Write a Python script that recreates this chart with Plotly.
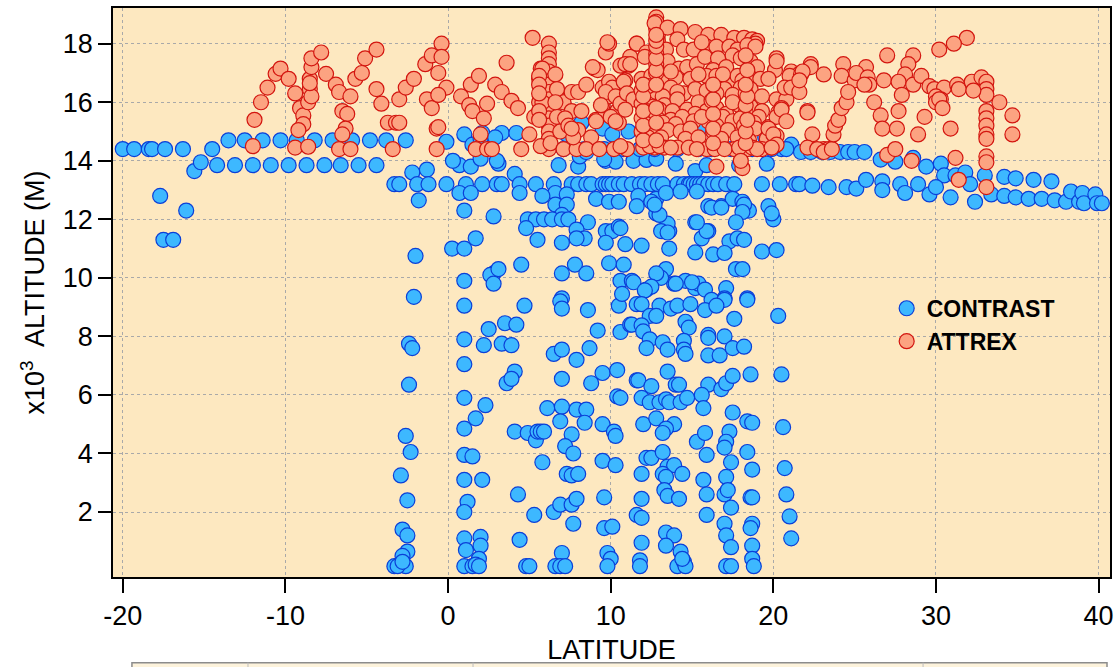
import plotly.graph_objects as go

# ---------------- DATA (latitude in deg, altitude in 10^3 m) ----------------
contrast_west = [
    (-20.0, 14.4), (-19.3, 14.4), (-18.4, 14.4), (-18.2, 14.4), (-17.4, 14.4), (-16.3, 14.4), (-14.5, 14.4),
    (-15.6, 13.65), (-15.2, 13.95),
    (-14.2, 13.85), (-13.1, 13.85), (-12.0, 13.85), (-10.9, 13.85), (-9.8, 13.85), (-8.7, 13.85),
    (-7.6, 13.85), (-6.6, 13.85), (-5.5, 13.85), (-4.4, 13.85),
    (-13.5, 14.7), (-12.5, 14.7), (-11.4, 14.7), (-10.3, 14.7), (-9.3, 14.7), (-8.2, 14.7),
    (-7.1, 14.7), (-5.9, 14.7), (-4.8, 14.7), (-3.8, 14.7),
    (-17.7, 12.8), (-17.5, 11.3), (-16.9, 11.3), (-16.1, 12.3), (-3.3, 13.2),
    (-2.6, 14.7), (-0.1, 14.65),
]

contrast_band = [
    (-2.2, 13.6), (-1.3, 13.7), (-1.8, 12.65), (0.7, 13.85), (1.4, 13.8), (2.0, 14.07), (3.1, 13.9),
    (4.1, 13.55), (6.8, 13.85), (8.0, 13.8), (9.7, 14.0), (10.3, 13.97), (11.4, 14.0), (12.2, 14.03),
    (12.8, 14.07), (14.0, 13.9), (15.2, 13.65), (15.9, 13.85), (17.9, 13.85), (19.6, 13.9),
    (1.0, 14.9), (2.1, 14.95), (3.3, 14.95), (4.2, 14.95), (1.5, 14.55), (2.0, 14.75), (2.9, 14.8),
    (8.2, 15.3), (7.3, 14.9), (9.5, 15.1), (10.1, 14.9), (11.1, 15.0), (14.8, 14.9), (15.4, 15.05),
    (19.5, 14.8), (21.1, 14.55), (20.5, 14.4),
    (7.1, 14.4), (8.4, 14.4), (9.6, 14.4), (10.8, 14.4), (11.8, 14.4), (12.7, 14.4), (14.1, 14.4),
    (15.4, 14.4), (16.2, 14.4), (17.4, 14.4), (18.7, 14.4), (19.9, 14.4), (20.8, 14.4),
    (0.3, 14.0), (3.0, 14.0), (8.1, 14.15), (8.5, 14.3), (9.6, 14.05),
    (-3.0, 13.2), (-1.9, 13.2), (-1.2, 13.2), (-0.1, 13.2), (1.1, 13.2), (2.1, 13.2), (3.0, 13.2),
    (3.3, 13.2), (4.4, 13.2), (5.4, 13.2), (6.5, 13.2), (7.6, 13.2), (8.0, 13.2), (8.5, 13.2),
    (8.8, 13.2), (9.5, 13.2), (9.7, 13.2), (9.9, 13.2), (10.1, 13.2), (10.5, 13.2), (10.8, 13.2),
    (11.3, 13.2), (11.8, 13.2), (12.1, 13.2), (12.5, 13.2), (12.9, 13.2), (13.2, 13.2), (14.1, 13.2),
    (14.5, 13.2), (14.8, 13.2), (14.9, 13.2), (15.1, 13.2), (15.3, 13.2), (15.5, 13.2), (15.7, 13.2),
    (16.0, 13.2), (16.3, 13.2), (16.6, 13.2), (17.1, 13.2), (17.6, 13.2), (19.3, 13.2), (20.4, 13.2),
    (21.4, 13.2),
]

contrast_east = [
    (21.7, 14.3), (22.3, 14.3), (23.0, 14.3), (23.5, 14.3), (24.1, 14.3), (24.6, 14.3), (25.0, 14.3),
    (25.6, 14.3), (26.6, 14.04), (27.5, 13.97), (28.6, 14.1), (29.4, 13.8), (30.3, 13.9), (30.5, 13.5),
    (31.2, 13.5), (31.8, 13.6), (32.1, 13.2), (33.0, 13.5), (34.2, 13.45), (34.9, 13.4), (36.0, 13.35),
    (37.1, 13.3),
    (21.6, 13.2), (22.4, 13.15), (23.4, 13.1), (24.5, 13.1), (25.1, 13.05), (25.7, 13.35), (26.7, 13.3),
    (26.7, 13.0), (27.8, 13.2), (28.1, 12.9), (28.9, 13.2), (29.6, 12.85), (30.0, 13.1), (30.9, 12.75),
    (32.4, 12.6), (33.4, 12.85), (34.2, 12.8), (34.9, 12.75), (35.7, 12.7), (36.5, 12.7), (37.3, 12.65),
    (38.0, 12.6), (38.3, 12.95), (38.8, 12.6), (39.0, 12.9), (39.1, 12.55), (39.8, 12.85), (39.9, 12.55),
    (40.2, 12.55),
]

contrast_upper = [
    (0.7, 12.9), (1.4, 12.9), (4.4, 12.9), (6.6, 12.9), (7.3, 12.85), (9.1, 12.7), (9.9, 12.6),
    (10.5, 12.6), (11.7, 12.8), (12.8, 12.7), (13.4, 12.9), (14.3, 12.95), (15.3, 12.95), (16.0, 12.45),
    (16.8, 12.45), (17.5, 12.7), (18.1, 12.6), (18.3, 12.3), (18.5, 12.3), (19.7, 12.45), (20.0, 12.0),
    (1.0, 12.3), (2.8, 12.1), (5.8, 12.8), (6.6, 12.5), (7.3, 12.5), (7.0, 12.15),
    (4.9, 12.0), (5.4, 12.0), (5.9, 12.0), (6.4, 12.0), (7.0, 12.0), (7.4, 12.0), (4.8, 11.7),
    (8.6, 11.9), (7.9, 11.65), (8.4, 11.35), (7.9, 11.35), (9.7, 11.6), (10.1, 11.6), (10.5, 11.75),
    (11.6, 12.45), (12.5, 12.6), (12.8, 12.2), (13.2, 11.6), (13.6, 11.6), (13.5, 11.85), (15.2, 11.9),
    (15.6, 11.35), (16.0, 11.6), (17.3, 11.25), (17.8, 11.35), (18.2, 11.3), (19.3, 10.9), (20.2, 10.95),
    (0.25, 11.0), (1.0, 11.0), (1.7, 11.35), (-2.0, 10.75), (2.8, 10.15), (2.6, 10.1), (3.1, 10.3),
    (4.5, 10.45), (7.0, 10.15), (7.8, 10.45), (8.5, 10.15), (9.9, 10.5), (10.8, 10.45), (1.0, 9.9),
    (2.8, 9.8), (10.6, 9.9), (11.3, 9.9), (12.2, 9.6), (13.2, 10.1), (13.4, 10.3), (13.9, 9.8),
    (14.6, 9.9), (15.2, 9.65), (15.4, 9.8), (17.1, 9.65), (17.0, 9.3), (17.7, 10.3), (18.1, 10.3),
    (18.4, 9.3), (-2.1, 9.35), (7.0, 9.3),
    (5.5, 11.3), (7.0, 11.2), (9.7, 11.2), (10.6, 11.7), (10.9, 11.15), (11.9, 11.1), (13.6, 11.0),
    (15.2, 10.87), (16.3, 10.8), (17.0, 10.85), (13.1, 10.0), (12.8, 10.15), (11.4, 9.85), (12.5, 9.7),
    (12.1, 9.57), (14.0, 9.8), (15.0, 9.85), (15.8, 9.6),
    (16.2, 12.4), (16.8, 12.4), (18.2, 12.5), (18.1, 12.25), (19.9, 12.2), (13.0, 12.15), (12.7, 12.5),
    (15.9, 11.6), (17.7, 11.9), (13.1, 11.6), (13.5, 11.55), (15.3, 11.9),
]

contrast_middle = [
    (1.0, 9.05), (4.7, 9.05), (6.9, 9.2), (7.0, 8.95), (8.6, 8.9), (10.5, 9.05), (10.7, 9.45),
    (11.6, 9.1), (2.5, 8.25), (3.5, 8.45), (4.2, 8.4), (9.2, 8.2), (10.6, 8.15), (11.2, 8.4),
    (1.0, 7.9), (2.2, 7.7), (3.3, 7.75), (3.9, 7.7), (6.5, 7.4), (7.0, 7.55), (7.9, 7.2), (8.7, 7.6),
    (1.0, 7.05), (4.1, 6.8), (3.6, 6.4), (3.9, 6.55), (7.0, 6.55), (8.8, 6.4), (9.5, 6.75),
    (10.4, 6.85), (11.6, 6.5),
    (16.2, 9.25), (17.0, 9.25), (15.8, 8.9), (16.5, 9.05), (18.4, 9.25), (11.9, 9.1), (13.0, 9.05),
    (13.7, 8.95), (14.1, 9.05), (14.9, 9.1), (12.4, 8.7), (12.8, 8.7), (17.6, 8.6), (20.3, 8.7),
    (11.3, 8.4), (11.9, 8.38), (12.0, 8.17), (14.6, 8.5), (14.8, 8.3), (12.4, 7.9), (12.2, 7.6),
    (13.2, 7.8), (13.5, 7.55), (14.5, 7.85), (14.5, 7.55), (14.6, 7.4), (16.0, 8.05), (16.0, 7.95),
    (17.0, 8.0), (16.0, 7.35), (16.7, 7.35), (17.5, 7.6), (18.2, 7.65), (13.5, 6.8), (11.7, 6.5),
    (12.5, 6.3), (14.0, 6.35), (14.2, 6.35), (16.0, 6.35), (16.8, 6.2), (17.1, 6.4), (17.5, 6.65),
    (18.6, 6.7), (20.5, 6.7),
    (-2.4, 7.75), (-2.2, 7.6), (-2.4, 6.35),
]

contrast_lower = [
    (-2.6, 4.6), (-2.3, 4.05), (-2.9, 3.25), (-2.5, 2.4), (-2.8, 1.4), (-2.5, 1.2), (-2.5, 0.65),
    (-2.8, 0.5), (-3.3, 0.15), (-2.6, 0.15), (-3.1, 0.15), (-2.8, 0.3),
    (1.0, 5.9), (2.3, 5.65), (1.7, 5.2), (1.0, 4.85), (1.0, 3.95), (1.5, 3.9), (1.0, 3.1), (2.1, 3.1),
    (1.2, 2.35), (1.0, 2.0), (1.0, 1.1), (2.0, 1.15), (1.1, 0.7), (2.0, 0.85), (1.9, 0.4), (1.0, 0.15),
    (1.5, 0.15), (1.7, 0.2), (1.9, 0.15),
    (4.1, 4.75), (4.9, 4.7), (5.4, 4.45), (5.5, 4.75), (5.7, 4.75), (5.9, 4.75), (5.8, 3.7),
    (4.3, 2.6), (4.4, 1.05), (4.8, 0.15), (5.0, 0.15),
    (6.1, 5.55), (7.0, 5.6), (7.9, 5.5), (8.5, 5.5), (6.9, 5.1), (8.4, 5.05), (7.6, 4.65), (7.2, 4.25),
    (7.7, 4.0), (7.3, 3.3), (7.6, 3.25), (8.0, 3.3), (5.3, 1.9), (6.5, 2.0), (6.9, 2.25), (7.6, 2.25),
    (7.9, 2.45), (7.7, 1.6), (7.0, 0.6), (6.6, 0.15), (6.9, 0.15), (7.2, 0.15),
    (9.5, 5.0), (10.2, 4.75), (10.3, 4.6), (9.5, 3.75), (10.3, 3.6), (9.6, 2.5), (9.6, 1.45),
    (10.1, 1.5), (9.8, 0.6), (10.0, 0.4), (9.8, 0.15), (10.4, 5.95),
    (10.6, 5.9), (11.9, 5.9), (12.4, 5.75), (13.0, 5.75), (13.4, 5.85), (13.6, 5.75), (14.3, 5.75),
    (14.7, 5.9), (15.6, 6.0), (15.7, 5.55), (17.5, 5.4), (18.4, 5.1), (18.7, 5.05), (20.6, 4.9),
    (12.0, 5.0), (12.8, 5.2), (13.9, 5.0), (13.4, 4.85), (13.2, 4.7), (15.3, 4.4), (15.8, 4.7),
    (17.3, 4.75), (17.1, 4.4), (17.0, 4.2), (18.4, 4.05),
    (12.2, 3.85), (12.5, 3.85), (13.2, 4.05), (13.5, 3.55), (13.9, 3.6), (15.9, 3.95), (17.4, 3.7),
    (18.7, 3.45), (20.7, 3.5),
    (11.9, 3.3), (13.2, 3.3), (13.4, 3.2), (14.4, 3.3), (15.7, 3.1), (17.1, 3.2), (13.3, 2.75),
    (13.5, 2.55), (14.2, 2.45), (15.9, 2.6), (17.0, 2.6), (17.2, 2.75), (18.6, 2.5), (18.7, 2.5),
    (20.8, 2.6),
    (11.9, 2.45), (11.6, 1.9), (11.9, 1.8), (15.9, 1.9), (17.4, 2.15), (17.0, 1.6), (18.7, 1.6),
    (18.6, 1.45), (21.0, 1.85),
    (13.4, 1.3), (13.9, 1.2), (13.4, 0.85), (11.9, 0.95), (14.3, 0.65), (17.1, 1.2), (17.4, 0.8),
    (18.7, 0.85), (21.1, 1.1), (11.8, 0.35), (14.1, 0.15), (14.5, 0.3), (14.6, 0.15), (17.1, 0.15),
    (17.4, 0.15), (18.7, 0.4), (18.8, 0.15), (14.4, 0.4), (11.8, 0.15),
]

attrex_west = [
    (-11.9, 15.4), (-11.5, 16.0), (-11.1, 16.5), (-10.6, 16.97), (-10.3, 17.15), (-9.8, 16.8),
    (-9.4, 16.3), (-9.1, 15.8), (-8.9, 15.55), (-8.9, 15.25), (-9.2, 15.05), (-9.4, 14.45),
    (-8.6, 14.48), (-12.0, 14.5),
    (-8.6, 16.0), (-8.5, 16.45), (-8.5, 16.8), (-8.4, 17.2), (-8.4, 17.5), (-7.8, 17.7),
    (-8.4, 16.2), (-8.5, 16.65),
    (-7.5, 16.97), (-6.9, 16.6), (-6.7, 16.35), (-6.5, 15.7), (-6.2, 15.6), (-6.3, 15.1),
    (-6.5, 14.9), (-6.7, 14.4), (-6.0, 14.4), (-6.0, 16.2), (-5.7, 16.8), (-5.3, 17.0), (-5.1, 17.5),
    (-4.4, 17.8), (-4.4, 16.45), (-4.1, 15.95), (-3.7, 15.3), (-3.2, 15.3), (-3.4, 14.4), (-3.0, 16.1),
    (-2.6, 16.5), (-2.1, 16.8), (-3.0, 15.3), (-1.4, 17.3), (-1.0, 17.6), (-0.4, 18.0), (-0.4, 17.55),
    (-0.6, 17.0), (-0.1, 16.5), (-1.3, 16.1), (-1.0, 15.8), (-0.6, 16.25), (-0.7, 15.1), (-0.6, 15.15),
    (-0.7, 14.4),
    (0.8, 16.2), (1.3, 15.9), (1.4, 16.6), (1.9, 16.9), (1.5, 15.7), (2.2, 15.45), (2.4, 15.95),
    (2.0, 14.9), (1.7, 14.4), (2.4, 14.4), (2.7, 14.4), (2.9, 16.6), (3.3, 16.35), (3.6, 17.35),
    (3.9, 16.05), (4.3, 15.8), (5.2, 18.2), (4.5, 14.4), (5.0, 14.9), (5.3, 15.5), (5.6, 16.0),
    (5.7, 16.45), (5.6, 16.8), (5.7, 17.15),
]

attrex_col6 = [
    (6.2, 18.0), (6.2, 17.7), (6.2, 17.5), (6.2, 17.3), (6.2, 17.05), (6.2, 16.8), (6.2, 16.6),
    (6.2, 16.35), (6.2, 16.1), (6.2, 15.9), (6.2, 15.7), (6.2, 15.45), (6.2, 15.2), (6.2, 15.0),
    (6.2, 14.75), (6.2, 14.4),
    (5.8, 17.15), (6.6, 16.95), (6.8, 16.1), (5.8, 16.0), (5.6, 16.9), (5.6, 16.6), (5.6, 16.3),
    (5.6, 15.7), (5.6, 15.4), (6.7, 15.5), (6.9, 15.0), (5.7, 14.5), (6.3, 14.6),
]

attrex_mid = [
    (7.1, 16.0), (7.6, 16.35), (8.0, 16.35), (8.5, 16.6), (7.6, 15.7), (7.2, 15.45), (8.0, 15.05),
    (8.8, 14.8), (7.1, 14.4), (7.9, 14.4), (8.5, 14.4), (9.3, 14.4), (10.2, 14.4), (9.1, 15.4),
    (9.7, 15.6), (9.5, 15.9), (9.9, 16.2), (10.5, 16.2), (9.5, 16.5), (9.9, 16.7), (10.4, 15.7),
    (10.5, 15.3), (10.7, 16.25), (10.9, 16.75), (11.1, 17.25), (10.6, 17.25), (9.7, 17.7), (9.9, 18.0),
    (9.0, 17.15), (9.2, 17.1), (11.6, 18.0),
    (6.7, 16.45), (6.6, 16.0), (8.2, 15.7), (7.4, 15.2), (7.7, 14.8), (7.6, 15.1), (8.9, 17.2),
    (9.8, 18.05), (10.1, 16.5), (9.7, 16.35), (10.3, 16.2), (10.6, 15.95), (9.4, 15.9), (10.0, 15.5),
    (10.3, 15.35), (9.1, 15.35), (11.2, 17.55), (10.9, 17.3), (10.8, 16.7), (11.0, 16.3), (11.4, 16.1),
    (10.9, 15.75), (11.0, 14.4), (10.6, 14.5),
]

attrex_core = [
    (12.8, 18.9), (12.8, 18.75), (12.8, 18.5), (12.9, 18.3), (12.7, 18.7), (13.5, 18.55), (14.3, 18.5),
    (15.2, 18.4), (16.0, 18.3), (16.8, 18.3), (17.6, 18.2), (18.2, 18.2), (18.7, 18.15), (19.0, 18.1),
    (18.9, 18.0),
    (11.6, 18.0), (12.9, 18.1), (13.4, 17.8), (14.1, 18.15), (14.5, 17.8), (15.1, 17.8), (15.9, 17.9),
    (16.5, 17.9), (17.3, 17.9), (17.8, 17.8), (18.4, 17.95), (18.9, 17.9), (12.2, 17.7), (15.6, 18.05),
    (12.1, 17.55), (12.8, 17.65), (13.5, 17.4), (14.2, 17.15), (14.7, 17.2), (15.3, 17.3), (15.8, 17.55),
    (16.6, 17.5), (17.5, 17.6), (18.0, 17.5), (18.6, 17.4), (19.0, 17.2), (20.2, 17.5), (20.1, 17.1),
    (12.8, 17.3), (16.3, 17.1), (17.1, 17.2),
    (11.2, 17.3), (11.9, 16.8), (12.5, 16.9), (13.3, 16.8), (14.0, 16.85), (14.9, 16.8), (15.9, 16.9),
    (16.5, 16.9), (17.3, 16.7), (17.8, 16.9), (18.5, 16.9), (19.2, 16.8), (19.7, 16.8), (12.8, 17.0),
    (13.7, 17.05), (15.4, 16.95), (16.9, 16.95), (18.1, 16.75),
    (11.9, 16.4), (12.8, 16.35), (13.7, 16.5), (14.5, 16.3), (15.2, 16.45), (15.9, 16.4), (17.0, 16.45),
    (18.0, 16.5), (18.6, 16.45), (19.3, 16.2), (20.2, 16.1), (12.3, 16.55), (13.2, 16.2), (14.1, 16.35),
    (16.5, 16.3), (17.5, 16.25), (18.3, 16.3),
    (11.9, 15.95), (12.6, 15.85), (13.3, 15.9), (14.1, 16.1), (14.7, 15.75), (15.4, 16.0), (15.9, 15.7),
    (16.5, 15.8), (17.1, 15.6), (17.9, 15.9), (18.6, 15.85), (19.3, 15.7), (12.2, 15.7), (13.0, 15.75),
    (13.8, 15.7), (15.2, 15.6), (16.2, 16.05), (17.5, 16.0), (18.3, 15.65),
    (11.9, 15.45), (12.8, 15.5), (13.7, 15.4), (14.4, 15.5), (15.1, 15.35), (16.0, 15.35), (16.9, 15.5),
    (17.5, 15.35), (18.3, 15.25), (19.1, 15.5), (19.7, 15.15), (12.2, 15.25), (13.2, 15.3), (14.0, 15.25),
    (15.6, 15.5), (16.5, 15.2), (18.0, 15.45), (18.8, 15.3),
    (11.9, 15.0), (12.8, 15.05), (13.5, 15.05), (14.3, 15.0), (14.9, 15.1), (16.3, 15.0), (17.2, 15.05),
    (18.2, 15.2), (18.9, 15.1), (19.6, 14.75), (20.2, 14.85), (12.3, 14.8), (13.1, 14.8), (14.6, 14.75),
    (15.4, 14.8), (16.8, 14.75), (17.8, 14.8), (18.5, 14.7),
    (12.0, 14.45), (12.7, 14.45), (13.3, 14.45), (14.1, 14.45), (14.8, 14.45), (15.9, 14.4), (16.4, 14.4),
    (17.6, 14.4), (18.4, 14.4), (19.3, 14.4), (19.9, 14.45), (12.4, 14.5), (13.0, 14.5), (13.7, 14.45),
    (15.3, 14.4), (17.0, 14.4), (17.9, 14.45), (18.7, 14.45), (19.0, 14.4),
    (16.5, 13.8), (18.1, 13.75), (18.0, 14.0),
    (12.0, 14.7), (12.0, 15.2), (12.0, 15.7), (12.0, 16.2), (12.0, 16.6),
    (12.8, 14.7), (12.8, 15.3), (12.8, 15.8), (12.8, 16.6), (12.8, 17.1), (12.8, 17.5), (12.8, 17.9),
    (12.8, 18.1), (12.8, 18.3),
    (18.3, 14.6), (18.3, 15.0), (18.4, 15.4), (18.3, 15.9), (18.4, 16.2), (18.3, 16.6), (18.4, 17.1),
    (18.3, 17.6),
    (16.3, 14.6), (16.3, 15.1), (16.3, 15.6), (16.3, 16.1), (16.3, 16.6),
]

attrex_east = [
    (20.2, 17.4), (21.1, 17.05), (21.6, 16.97), (20.8, 16.1), (20.3, 15.65), (20.2, 15.5), (19.7, 15.1),
    (20.0, 14.9), (20.2, 14.55), (20.5, 15.8),
    (21.0, 16.9), (21.7, 16.95), (22.3, 17.3), (23.1, 16.95), (20.7, 16.5), (21.1, 16.5), (20.5, 15.75),
    (20.8, 15.35), (22.1, 15.7), (22.4, 14.9), (23.1, 14.4), (23.4, 14.4), (22.1, 14.45), (19.9, 14.45),
    (31.9, 18.2), (31.1, 18.0), (30.2, 17.8), (27.0, 17.6), (28.6, 17.6), (28.3, 17.3), (28.1, 16.95),
    (24.3, 17.3), (25.7, 17.2), (22.3, 17.2), (21.8, 17.05), (24.2, 16.9), (25.0, 16.75), (25.1, 17.0),
    (25.8, 16.85), (25.9, 16.6), (25.6, 16.6), (26.8, 16.75), (27.7, 16.7), (28.6, 16.6), (29.1, 16.9),
    (29.6, 16.55), (29.9, 16.45), (30.5, 16.5), (30.0, 16.2), (30.3, 16.1), (30.0, 16.0), (31.3, 16.6),
    (31.4, 16.45), (32.2, 16.7), (32.8, 16.85), (33.1, 16.7), (33.1, 16.45), (33.1, 16.25), (32.3, 16.4),
    (33.9, 16.0), (34.7, 15.55), (34.7, 14.9),
    (33.1, 15.7), (33.1, 15.45), (33.1, 15.2), (33.1, 14.9), (33.1, 14.75), (33.1, 14.15), (33.1, 13.95),
    (33.1, 13.1),
    (21.6, 16.35), (21.6, 16.75), (22.1, 15.65), (22.7, 14.4), (23.1, 14.3), (23.6, 14.4), (23.7, 14.9),
    (23.8, 15.2), (24.0, 15.4), (24.2, 15.8), (24.5, 16.0), (24.6, 16.35), (26.2, 16.0), (26.6, 15.55),
    (26.7, 15.1), (27.7, 15.7), (27.6, 15.1), (27.9, 16.25), (27.0, 14.2), (27.5, 14.4), (28.5, 14.0),
    (28.9, 14.9), (29.3, 15.5), (30.2, 16.1), (30.4, 15.8), (30.9, 15.1), (31.2, 14.1), (31.4, 13.35),
]

x_ticks = [-20, -10, 0, 10, 20, 30, 40]
x_tick_labels = ["-20", "-10", "0", "10", "20", "30", "40"]
y_ticks = [2, 4, 6, 8, 10, 12, 14, 16, 18]

# ---------------- FIGURE ----------------
contrast = contrast_west + contrast_band + contrast_east + contrast_upper + contrast_middle + contrast_lower
attrex = attrex_west + attrex_col6 + attrex_mid + attrex_core + attrex_east

FONT = "Liberation Sans, Arial, sans-serif"

fig = go.Figure()
fig.add_trace(go.Scatter(
    x=[p[0] for p in contrast], y=[p[1] for p in contrast], mode="markers", name="CONTRAST",
    marker=dict(size=15, color="#3DB8FF", line=dict(color="#0B3FD8", width=1.2)),
))
fig.add_trace(go.Scatter(
    x=[p[0] for p in attrex], y=[p[1] for p in attrex], mode="markers", name="ATTREX",
    marker=dict(size=15, color="#FCA381", line=dict(color="#D3150F", width=1.2)),
))

axis_common = dict(
    showline=True, linecolor="black", linewidth=1.5, mirror=True,
    ticks="outside", tickcolor="black", tickwidth=1.5,
    showgrid=True, gridcolor="#A9A9A9", griddash="dot", gridwidth=1,
    zeroline=False, tickfont=dict(family=FONT, size=27, color="black"),
)

fig.update_xaxes(range=[-20.6, 40.7], tickvals=x_ticks, ticktext=x_tick_labels, ticklen=14,
                 title=dict(text="LATITUDE", font=dict(family=FONT, size=27, color="black"), standoff=10),
                 **axis_common)
fig.update_yaxes(range=[-0.22, 19.22], tickvals=y_ticks, ticklen=13,
                 title=dict(text="x10<sup>3</sup>  ALTITUDE (M)", font=dict(family=FONT, size=27, color="black"),
                            standoff=10),
                 **axis_common)

# partially visible table frame below the chart
shapes = [dict(type="rect", xref="paper", yref="paper", x0=0.019, x1=0.997, y0=-0.21, y1=-0.1506,
               line=dict(color="#8C8C8C", width=1.5), fillcolor="#FDF3DC", layer="above")]
for xp in [0.1354, 0.3611, 0.8125]:
    shapes.append(dict(type="line", xref="paper", yref="paper", x0=xp, x1=xp, y0=-0.21, y1=-0.1506,
                       line=dict(color="#BDBDBD", width=1)))

fig.update_layout(
    width=1120, height=667,
    margin=dict(l=113, r=10, t=6, b=90),
    paper_bgcolor="white", plot_bgcolor="#FDE8C0",
    showlegend=True,
    legend=dict(x=0.776, y=0.51, xanchor="left", yanchor="top", bgcolor="rgba(0,0,0,0)",
                font=dict(family=FONT, size=23, color="black", weight="bold"),
                itemsizing="trace", tracegroupgap=0),
    shapes=shapes,
    font=dict(family=FONT, color="black"),
)

fig.write_html("out.html")
